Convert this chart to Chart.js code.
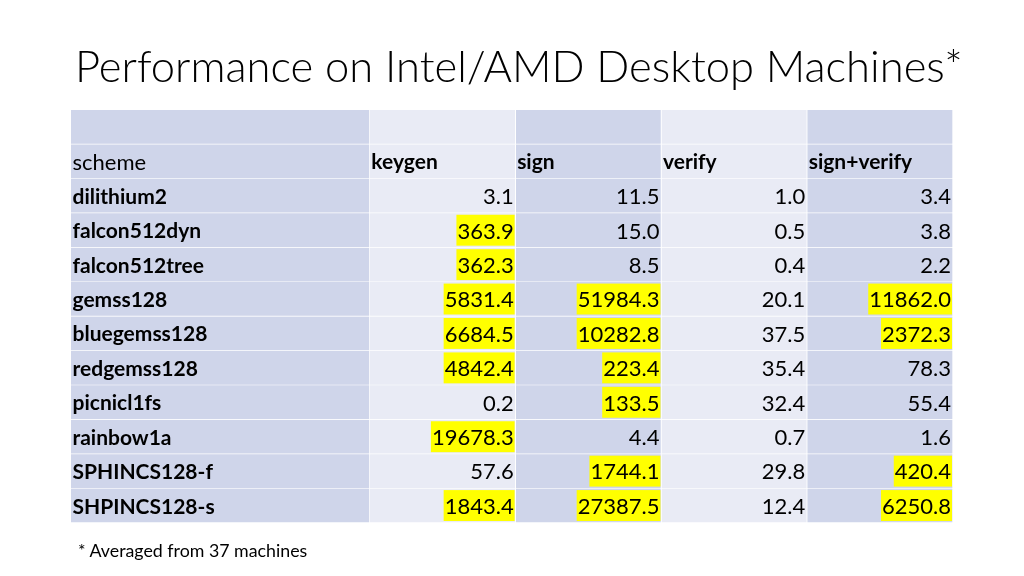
<!DOCTYPE html>
<html>
<head>
<meta charset="utf-8">
<script src="https://cdn.jsdelivr.net/npm/chart.js@4.4.1/dist/chart.umd.min.js"></script>
<style>
  body { margin: 0; width: 1024px; height: 576px; background: #fff; position: relative; overflow: hidden; font-family: Lato, "Open Sans", sans-serif; color: #000; }
  #title { position: absolute; left: 75px; top: 44px; font-size: 43.5px; font-weight: 300; line-height: 1; white-space: nowrap; }
  #note { position: absolute; left: 78px; top: 542px; font-size: 17.8px; line-height: 1; white-space: nowrap; }
  #wrap { position: absolute; left: 0; top: 0; width: 1024px; height: 576px; }
</style>
</head>
<body>
<div id="wrap"><canvas id="table"></canvas></div>
<div id="title">Performance on Intel/AMD Desktop Machines*</div>
<div id="note">* Averaged from 37 machines</div>
<script>
// table content
const schemes = ["dilithium2", "falcon512dyn", "falcon512tree", "gemss128", "bluegemss128",
  "redgemss128", "picnicl1fs", "rainbow1a", "SPHINCS128-f", "SHPINCS128-s"];
const columns = ["keygen", "sign", "verify", "sign+verify"];
const keygen = [3.1, 363.9, 362.3, 5831.4, 6684.5, 4842.4, 0.2, 19678.3, 57.6, 1843.4];
const sign = [11.5, 15.0, 8.5, 51984.3, 10282.8, 223.4, 133.5, 4.4, 1744.1, 27387.5];
const verify = [1.0, 0.5, 0.4, 20.1, 37.5, 35.4, 32.4, 0.7, 29.8, 12.4];
const signVerify = [3.4, 3.8, 2.2, 11862.0, 2372.3, 78.3, 55.4, 1.6, 420.4, 6250.8];
const highlightAbove = 100; // values above this get a yellow background

const values = [keygen, sign, verify, signVerify];
const rowLabels = ["", "scheme"].concat(schemes);

// column edges in x-units (first column is wider)
const colEdges = [0, 2.05, 3.05, 4.05, 5.05, 6.05];
const bandColors = ["#cfd5ea", "#e9ebf5"];

const datasets = colEdges.slice(0, -1).map((start, c) => ({
  label: c === 0 ? "scheme" : columns[c - 1],
  data: rowLabels.map(() => [start, colEdges[c + 1]]),
  backgroundColor: bandColors[c % 2],
  borderColor: "#ffffff",
  borderWidth: { top: 0, left: 0, right: 1, bottom: 1 },
  borderSkipped: false,
  grouped: false,
  barPercentage: 1,
  categoryPercentage: 1
}));

const FONT = "Lato";
const bodySize = 22;
const labelSize = 21;

const cellText = {
  id: "cellText",
  afterDatasetsDraw(chart) {
    const ctx = chart.ctx;
    const xs = chart.scales.x, ys = chart.scales.y;
    const rowH = chart.chartArea.height / rowLabels.length;
    ctx.save();
    ctx.textBaseline = "middle";
    rowLabels.forEach((label, r) => {
      if (r === 0) return;
      const cy = ys.getPixelForValue(r);
      const top = cy - rowH / 2, bottom = cy + rowH / 2;
      for (let c = 0; c < 5; c++) {
        const left = xs.getPixelForValue(colEdges[c]);
        const right = xs.getPixelForValue(colEdges[c + 1]);
        ctx.fillStyle = "#000";
        if (r === 1) {
          ctx.font = (c === 0 ? bodySize + "px " : "bold " + labelSize + "px ") + FONT;
          ctx.textAlign = "left";
          ctx.fillText(c === 0 ? label : columns[c - 1], left + 1.5, cy + 1);
        } else if (c === 0) {
          ctx.font = "bold " + labelSize + "px " + FONT;
          ctx.textAlign = "left";
          ctx.fillText(label, left + 1.5, cy + 1);
        } else {
          const v = values[c - 1][r - 2];
          const txt = v.toFixed(1);
          ctx.font = bodySize + "px " + FONT;
          const w = ctx.measureText(txt).width;
          if (v > highlightAbove) {
            ctx.fillStyle = "#ffff00";
            ctx.fillRect(right - 2 - w - 1, top + 1.5, w + 2, bottom - top - 3.5);
            ctx.fillStyle = "#000";
          }
          ctx.textAlign = "right";
          ctx.fillText(txt, right - 2, cy + 1);
        }
      }
    });
    ctx.restore();
  }
};

new Chart(document.getElementById("table"), {
  type: "bar",
  data: { labels: rowLabels, datasets: datasets },
  options: {
    indexAxis: "y",
    responsive: true,
    maintainAspectRatio: false,
    animation: false,
    events: [],
    layout: { padding: { left: 71, top: 110, right: 71, bottom: 53 } },
    scales: {
      x: { type: "linear", min: 0, max: colEdges[colEdges.length - 1], display: false },
      y: { type: "category", display: false, offset: true }
    },
    plugins: {
      legend: { display: false },
      tooltip: { enabled: false }
    }
  },
  plugins: [cellText]
});
</script>
</body>
</html>
